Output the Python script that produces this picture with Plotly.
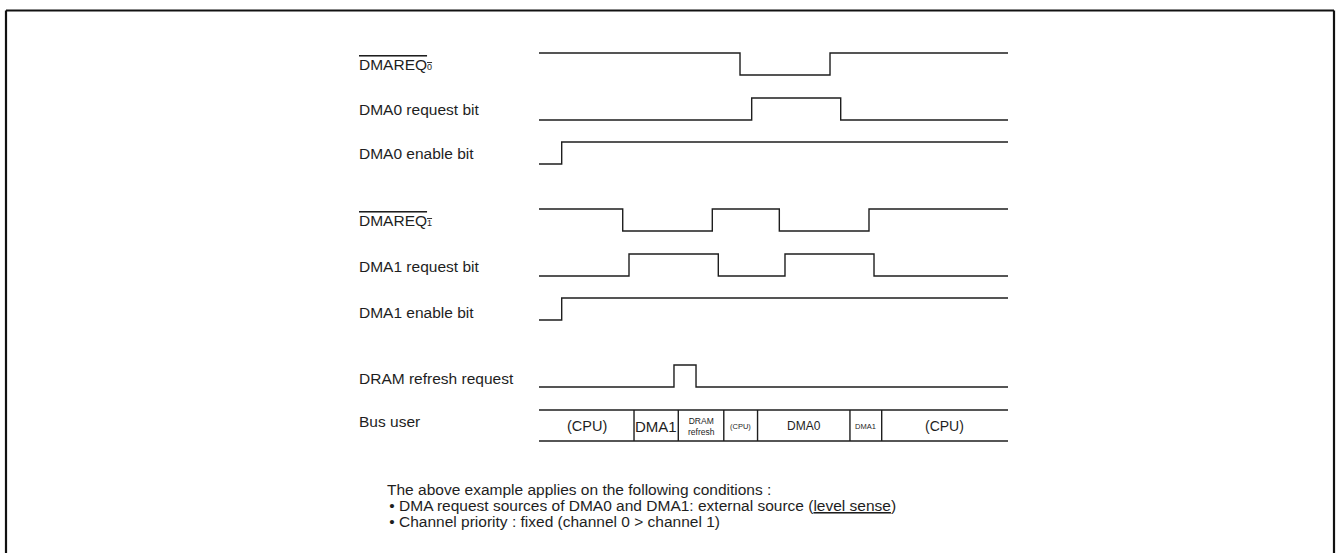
import plotly.graph_objects as go

# ---------------- data ----------------
signal_names = [
    '<span style="text-decoration:overline">DMAREQ<span style="font-size:9px">0</span></span>',
    "DMA0 request bit",
    "DMA0 enable bit",
    '<span style="text-decoration:overline">DMAREQ<span style="font-size:9px">1</span></span>',
    "DMA1 request bit",
    "DMA1 enable bit",
    "DRAM refresh request",
]
# transition times (time units 0..100) and logic levels after each time
dmareq0_t = [0, 42.86, 62.05, 100]
dmareq0_v = [1, 0, 1, 1]
dma0_req_t = [0, 45.35, 64.33, 100]
dma0_req_v = [0, 1, 0, 0]
dma0_en_t = [0, 4.84, 100]
dma0_en_v = [0, 1, 1]
dmareq1_t = [0, 17.85, 36.95, 51.24, 70.36, 100]
dmareq1_v = [1, 0, 1, 0, 1, 1]
dma1_req_t = [0, 19.19, 38.23, 52.45, 71.43, 100]
dma1_req_v = [0, 1, 0, 1, 0, 0]
dma1_en_t = [0, 4.84, 100]
dma1_en_v = [0, 1, 1]
dram_t = [0, 28.78, 33.48, 100]
dram_v = [0, 1, 0, 0]

bus_label = "Bus user"
bus_bounds = [0, 20.26, 29.70, 39.40, 46.60, 66.30, 73.07, 100]
bus_users = ["(CPU)", "DMA1", "DRAM<br>refresh", "(CPU)", "DMA0", "DMA1", "(CPU)"]

notes = [
    "The above example applies on the following conditions :",
    " \u2022 DMA request sources of DMA0 and DMA1: external source (<u>level sense</u>)",
    " \u2022 Channel priority : fixed (channel 0 > channel 1)",
]

signals = [
    (dmareq0_t, dmareq0_v), (dma0_req_t, dma0_req_v), (dma0_en_t, dma0_en_v),
    (dmareq1_t, dmareq1_v), (dma1_req_t, dma1_req_v), (dma1_en_t, dma1_en_v),
    (dram_t, dram_v),
]

# ---------------- layout constants (screen pixels) ----------------
W, H = 1337, 553
PX0, PX_PER_T = 539.0, 4.69   # time axis placement
row_low = [75, 120, 164, 231, 276, 320, 387]   # y of logic-low line
AMP = 22
label_x = 357
label_y = [64, 109, 153, 220, 266, 312, 378]
bus_label_y = 421
bus_top, bus_bot = 410, 441
bus_text_y = 426
bus_font = [14.5, 15, 8.5, 7.5, 12, 7.5, 14]
note_x = [385, 383, 383]
note_y = [489, 505, 521]
FONT = "Liberation Sans, Arial, sans-serif"
INK = "#1e1e1e"
LABEL_SIZE = 15.5


def px_x(px):
    return px / W


def px_y(py):
    return 1 - py / H


fig = go.Figure()

for (ts, vs), base in zip(signals, row_low):
    ys = [base - v * AMP for v in vs]
    fig.add_trace(go.Scatter(x=ts, y=ys, mode="lines", line=dict(shape="hv", color=INK, width=1.4),
                             hoverinfo="skip", showlegend=False))

# bus user box
bx, by = [], []
bx += [bus_bounds[0], bus_bounds[-1], None, bus_bounds[0], bus_bounds[-1], None]
by += [bus_top, bus_top, None, bus_bot, bus_bot, None]
for b in bus_bounds[1:-1]:
    bx += [b, b, None]
    by += [bus_top, bus_bot, None]
fig.add_trace(go.Scatter(x=bx, y=by, mode="lines", line=dict(color=INK, width=1.4),
                         hoverinfo="skip", showlegend=False))

for i, name in enumerate(bus_users):
    xc = (bus_bounds[i] + bus_bounds[i + 1]) / 2
    fig.add_annotation(x=xc, y=bus_text_y, xref="x", yref="y", text=name, showarrow=False,
                       font=dict(family=FONT, size=bus_font[i], color=INK),
                       xanchor="center", yanchor="middle")

for name, y in zip(signal_names, label_y):
    fig.add_annotation(x=px_x(label_x), xref="paper", y=y, yref="y", text=name, showarrow=False,
                       xanchor="left", yanchor="middle",
                       font=dict(family=FONT, size=LABEL_SIZE, color=INK))
fig.add_annotation(x=px_x(label_x), xref="paper", y=bus_label_y, yref="y", text=bus_label, showarrow=False,
                   xanchor="left", yanchor="middle", font=dict(family=FONT, size=LABEL_SIZE, color=INK))

for txt, x, y in zip(notes, note_x, note_y):
    fig.add_annotation(x=px_x(x), xref="paper", y=y, yref="y", text=txt, showarrow=False,
                       xanchor="left", yanchor="middle",
                       font=dict(family=FONT, size=LABEL_SIZE, color=INK))

# outer frame (open at the bottom)
frame = dict(color="#111111", width=2.2)
fig.add_shape(type="line", xref="paper", yref="paper", x0=px_x(6), x1=px_x(6),
              y0=-0.05, y1=px_y(10.5), line=frame)
fig.add_shape(type="line", xref="paper", yref="paper", x0=px_x(1334), x1=px_x(1334),
              y0=-0.05, y1=px_y(10.5), line=frame)
fig.add_shape(type="line", xref="paper", yref="paper", x0=px_x(6), x1=px_x(1334),
              y0=px_y(10.5), y1=px_y(10.5), line=frame)

fig.update_layout(
    width=W, height=H, margin=dict(l=0, r=0, t=0, b=0),
    paper_bgcolor="white", plot_bgcolor="white",
    xaxis=dict(range=[-PX0 / PX_PER_T, (W - PX0) / PX_PER_T], visible=False, fixedrange=True),
    yaxis=dict(range=[H, 0], visible=False, fixedrange=True),
    showlegend=False,
)

fig.write_html("out.html", config={"displayModeBar": False, "staticPlot": True},
               post_script="document.body.style.margin='0';document.body.style.overflow='hidden';")
